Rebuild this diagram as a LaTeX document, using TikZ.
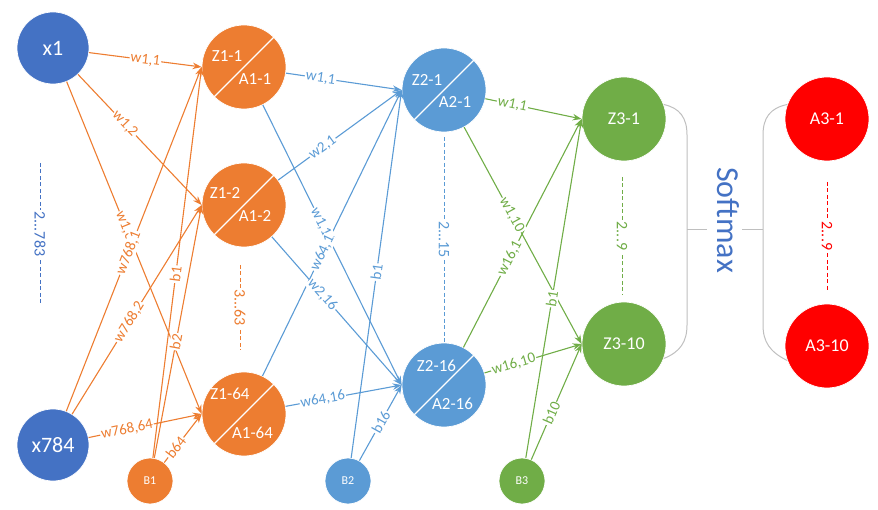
\documentclass[tikz,border=0pt]{standalone}
\usepackage{fontspec}
\setmainfont{Carlito}
\usetikzlibrary{arrows.meta,calc}
\definecolor{cx}{HTML}{4472C4}
\definecolor{co}{HTML}{ED7D31}
\definecolor{cb}{HTML}{5B9BD5}
\definecolor{cg}{HTML}{70AD47}
\definecolor{cr}{HTML}{FF0000}
\definecolor{cgray}{HTML}{BFBFBF}
\newcommand{\myedge}[3]{\draw[edge,#1] (#2) -- (#3);}
\newcommand{\mylabel}[5]{\path (#2) -- node[wl,text=#1,pos=#4]{#5} (#3);}
\begin{document}
\begin{tikzpicture}[x=1pt,y=-1pt,
 neuron/.style={circle,inner sep=0pt,minimum size=84pt,draw=white,line width=0.7pt,text=white,font=\fontsize{18}{20}\selectfont},
 inp/.style={neuron,minimum size=72pt,fill=cx,font=\fontsize{22}{24}\selectfont},
 bias/.style={neuron,minimum size=46pt,font=\fontsize{12}{14}\selectfont},
 ztxt/.style={text=white,inner sep=0pt,font=\fontsize{17}{19}\selectfont},
 edge/.style={line width=1.1pt,-{Stealth[length=9pt,width=6.5pt]}},
 wl/.style={fill=white,inner sep=1pt,sloped,font=\fontsize{15}{17}\selectfont},
 dl/.style={fill=white,inner sep=1.5pt,rotate=-90,font=\fontsize{16}{18}\selectfont},
 dline/.style={line width=1pt,dash pattern=on 4pt off 2.5pt},
 brk/.style={cgray,line width=1pt},
]
\useasboundingbox (0,0) rectangle (878,510);
% nodes
\node[inp] (x1) at (53,48) {x1};
\node[inp] (x784) at (53,445) {x784};
\node[neuron,fill=co] (Z11) at (244,67) {};
\node[neuron,fill=co] (Z12) at (244,205) {};
\node[neuron,fill=co] (Z164) at (244,414) {};
\node[bias,fill=co] (B1) at (150,481) {B1};
\node[neuron,fill=cb] (Z21) at (444,90) {};
\node[neuron,fill=cb] (Z216) at (444,385) {};
\node[bias,fill=cb] (B2) at (348,481) {B2};
\node[neuron,fill=cg] (Z31) at (624,119) {Z3-1};
\node[neuron,fill=cg] (Z310) at (624,344) {Z3-10};
\node[bias,fill=cg] (B3) at (522,481) {B3};
\node[neuron,fill=cr] (A31) at (827,119) {A3-1};
\node[neuron,fill=cr] (A310) at (827,346) {A3-10};
\foreach \n in {Z11,Z12,Z164,Z21,Z216} \draw[white,line width=1.2pt] (\n.45) -- (\n.225);
\node[ztxt] (tz11) at ($(Z11)+(-17,-11)$) {Z1-1};
\node[ztxt] (ta11) at ($(Z11)+(11,12)$) {A1-1};
\node[ztxt] (tz12) at ($(Z12)+(-19,-12)$) {Z1-2};
\node[ztxt] (ta12) at ($(Z12)+(11,11)$) {A1-2};
\node[ztxt] (tz164) at ($(Z164)+(-14,-20)$) {Z1-64};
\node[ztxt] (ta164) at ($(Z164)+(8.5,19)$) {A1-64};
\node[ztxt] (tz21) at ($(Z21)+(-17,-10)$) {Z2-1};
\node[ztxt] (ta21) at ($(Z21)+(11,12)$) {A2-1};
\node[ztxt] (tz216) at ($(Z216)+(-7.5,-19)$) {Z2-16};
\node[ztxt] (ta216) at ($(Z216)+(8.5,19)$) {A2-16};
% edges layer 1
\myedge{co}{x1}{Z11.west}
\myedge{co}{x1}{Z12.west}
\myedge{co}{x1}{Z164.west}
\myedge{co}{x784}{Z11.west}
\myedge{co}{x784}{Z12.west}
\myedge{co}{x784}{Z164.west}
\myedge{co}{B1}{Z11.west}
\myedge{co}{B1}{Z12.west}
\myedge{co}{B1}{Z164.west}
% edges layer 2
\myedge{cb}{Z11}{Z21.west}
\myedge{cb}{Z11}{Z216.west}
\myedge{cb}{Z12}{Z21.west}
\myedge{cb}{Z12}{Z216.west}
\myedge{cb}{Z164}{Z21.west}
\myedge{cb}{Z164}{Z216.west}
\myedge{cb}{B2}{Z21.west}
\myedge{cb}{B2}{Z216.west}
% edges layer 3
\myedge{cg}{Z21}{Z31.west}
\myedge{cg}{Z21}{Z310.west}
\myedge{cg}{Z216}{Z31.west}
\myedge{cg}{Z216}{Z310.west}
\myedge{cg}{B3}{Z31.west}
\myedge{cg}{B3}{Z310.west}
% labels layer 1
\mylabel{co}{x1}{Z11.west}{0.5}{w1,1}
\mylabel{co}{x1}{Z12.west}{0.38}{w1,2}
\mylabel{co}{x1}{Z164.west}{0.445}{w1,64}
\mylabel{co}{x784}{Z11.west}{0.46}{w768,1}
\mylabel{co}{x784}{Z12.west}{0.44}{w768,2}
\mylabel{co}{x784}{Z164.west}{0.34}{w768,64}
\mylabel{co}{B1}{Z11.west}{0.47}{b1}
\mylabel{co}{B1}{Z12.west}{0.46}{b2}
\mylabel{co}{B1}{Z164.west}{0.31}{b64}
% labels layer 2
\mylabel{cb}{Z11}{Z21.west}{0.3}{w1,1}
\mylabel{cb}{Z11}{Z216.west}{0.43}{w1,16}
\mylabel{cb}{Z12}{Z21.west}{0.36}{w2,1}
\mylabel{cb}{Z12}{Z216.west}{0.39}{w2,16}
\mylabel{cb}{Z164}{Z21.west}{0.43}{w64,1}
\mylabel{cb}{Z164}{Z216.west}{0.32}{w64,16}
\mylabel{cb}{B2}{Z21.west}{0.505}{b1}
\mylabel{cb}{B2}{Z216.west}{0.51}{b16}
% labels layer 3
\mylabel{cg}{Z21}{Z31.west}{0.28}{w1,1}
\mylabel{cg}{Z21}{Z310.west}{0.405}{w1,10}
\mylabel{cg}{Z216}{Z31.west}{0.39}{w16,1}
\mylabel{cg}{Z216}{Z310.west}{0.3}{w16,10}
\mylabel{cg}{B3}{Z31.west}{0.47}{b1}
\mylabel{cg}{B3}{Z310.west}{0.4}{b10}
% dashed ellipses
\coordinate (d1a) at (40,163); \coordinate (d1b) at (40,305);
\draw[dline,cx] (d1a) -- node[dl,text=cx] (t1) {2...783} (d1b);
\coordinate (d2a) at (240,265); \coordinate (d2b) at (240,350);
\draw[dline,co] (d2a) -- node[dl,text=co] (t2) {3...63} (d2b);
\coordinate (d3a) at (444,137); \coordinate (d3b) at (444,342);
\draw[dline,cb] (d3a) -- node[dl,text=cb] (t3) {2...15} (d3b);
\coordinate (d4a) at (622,177); \coordinate (d4b) at (622,295);
\draw[dline,cg] (d4a) -- node[dl,text=cg] (t4) {2...9} (d4b);
\coordinate (d5a) at (827,182); \coordinate (d5b) at (827,290);
\draw[dline,cr] (d5a) -- node[dl,text=cr] (t5) {2...9} (d5b);
% softmax brackets
\draw[brk] (Z31.20) .. controls (680,108) and (687,118) .. (687,135) -- (687,325) .. controls (687,342) and (680,352) .. (Z310.-20);
\draw[brk] (A31.160) .. controls (770,108) and (763,118) .. (763,135) -- (763,325) .. controls (763,342) and (770,352) .. (A310.200);
\coordinate (k1a) at (687,230); \coordinate (k1b) at (707,230);
\coordinate (k2a) at (742,230); \coordinate (k2b) at (763,230);
\draw[brk] (k1a) -- (k1b);
\draw[brk] (k2a) -- (k2b);
\node[rotate=-90,text=cx,font=\fontsize{32}{36}\selectfont] (sm) at (728,220) {Softmax};
\end{tikzpicture}
\end{document}
